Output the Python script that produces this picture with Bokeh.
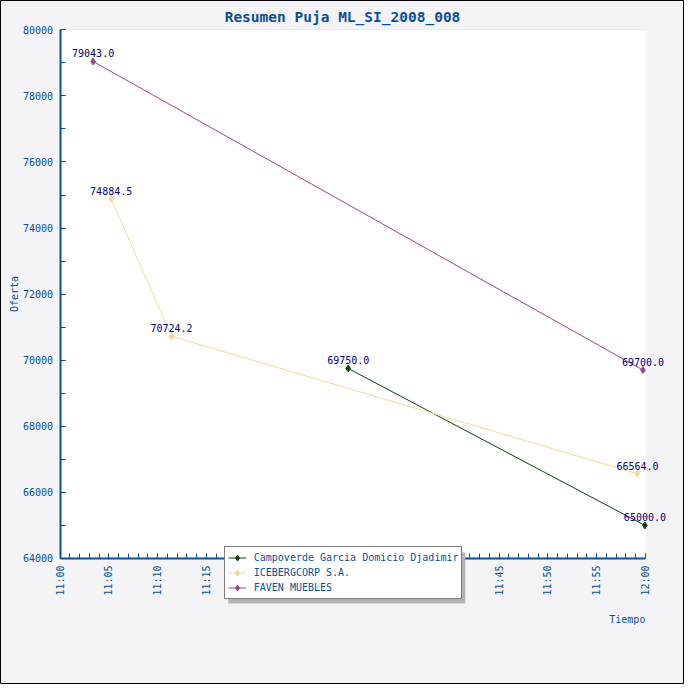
import math
from bokeh.plotting import figure
from bokeh.models import (ColumnDataSource, Legend, LegendItem, Label, FixedTicker,
                          BoxAnnotation, Range1d)
from bokeh.embed import file_html
from bokeh.resources import INLINE
from bokeh.core.properties import value

# ---- data ----
chart_title = "Resumen Puja ML_SI_2008_008"
x_title = "Tiempo"
y_title = "Oferta"
series_names = ["Campoverde Garcia Domicio Djadimir", "ICEBERGCORP S.A.", "FAVEN MUEBLES"]
campoverde_times = ["11:29:32", "11:59:57"]
campoverde_values = [69750.0, 65000.0]
iceberg_times = ["11:05:14", "11:11:25", "11:59:11"]
iceberg_values = [74884.5, 70724.2, 66564.0]
faven_times = ["11:03:23", "11:59:45"]
faven_values = [79043.0, 69700.0]
x_tick_labels = ["11:00", "11:05", "11:10", "11:15", "11:20", "11:25", "11:30",
                 "11:35", "11:40", "11:45", "11:50", "11:55", "12:00"]
y_ticks = [64000, 66000, 68000, 70000, 72000, 74000, 76000, 78000, 80000]

# ---- style ----
series_colors = ["#0f3f12", "#f0d89c", "#9a4488"]
axis_color = "#0b4f97"
label_color = "#000080"
FONT = "DejaVu Sans Mono"
W = H = 684
S = W / 700.0
# plot area in figure pixels
PL, PR, PT, PB = 61 * S, 660 * S, 30 * S, 571 * S


def to_min(t):
    h, m, s = (int(v) for v in t.split(":"))
    return (h - 11) * 60 + m + s / 60.0


def tick_min(t):
    h, m = (int(v) for v in t.split(":"))
    return (h - 11) * 60 + m


xt = [tick_min(t) for t in x_tick_labels]
x0, x1 = xt[0], xt[-1]
y0, y1 = y_ticks[0], y_ticks[-1]
kx = (x1 - x0) / (PR - PL)
ky = (y1 - y0) / (PB - PT)
x_range = Range1d(x0 - PL * kx, x1 + (W - PR) * kx)
y_range = Range1d(y0 - (H - PB) * ky, y1 + PT * ky)

p = figure(width=W, height=H, output_backend="svg", toolbar_location=None,
           min_border=0, x_range=x_range, y_range=y_range)
p.title.visible = False
p.background_fill_color = "#f4f4f6"
p.border_fill_color = "#f4f4f6"
p.outline_line_color = "black"
p.outline_line_width = 1
p.xgrid.visible = False
p.ygrid.visible = False

# white plot area
p.add_layout(BoxAnnotation(left=x0, right=x1, bottom=y0, top=y1, fill_color="white",
                           fill_alpha=1, line_color=None, level="underlay"))
# horizontal grid lines
p.segment(x0=[x0] * len(y_ticks), x1=[x1] * len(y_ticks), y0=y_ticks, y1=y_ticks,
          line_color="#dcdcdc", line_width=1, level="underlay")

# axes
p.xaxis.ticker = FixedTicker(ticks=xt, minor_ticks=list(range(x0, x1 + 1)))
p.xaxis.major_label_overrides = {v: l for v, l in zip(xt, x_tick_labels)}
p.xaxis.major_label_orientation = math.pi / 2
p.xaxis.fixed_location = y0
p.xaxis.bounds = (x0, x1)
p.yaxis.ticker = FixedTicker(ticks=y_ticks, minor_ticks=list(range(y0, y1 + 1, 1000)))
p.yaxis.fixed_location = x0
p.yaxis.bounds = (y0, y1)
p.yaxis.axis_label = y_title
for ax in (p.xaxis[0], p.yaxis[0]):
    ax.axis_line_color = axis_color
    ax.axis_line_width = 2
    ax.major_tick_line_color = axis_color
    ax.minor_tick_line_color = axis_color
    ax.major_tick_in = 5
    ax.major_tick_out = 0
    ax.minor_tick_in = 5
    ax.minor_tick_out = 0
    ax.major_label_text_font = FONT
    ax.major_label_text_font_size = "10px"
    ax.major_label_text_color = axis_color
    ax.major_label_standoff = 7
    ax.axis_label_text_font = FONT
    ax.axis_label_text_font_size = "10px"
    ax.axis_label_text_font_style = "normal"
    ax.axis_label_text_color = axis_color
p.yaxis.axis_label_standoff = 0

# series
all_series = [(campoverde_times, campoverde_values),
              (iceberg_times, iceberg_values),
              (faven_times, faven_values)]
items = []
for (times, vals), name, col in zip(all_series, series_names, series_colors):
    src = ColumnDataSource(dict(x=[to_min(t) for t in times], y=vals,
                                lbl=[f"{v:.1f}" for v in vals]))
    ln = p.line("x", "y", source=src, line_color=col, line_width=1)
    p.scatter("x", "y", source=src, marker="diamond", size=7,
              fill_color=col, line_color=col)
    p.text("x", "y", text="lbl", source=src, text_font=value(FONT),
           text_font_size="10px", text_color=label_color, text_align="center",
           text_baseline="bottom", y_offset=-4)
    # legend-only marker (larger diamond, a single non-drawn NaN point)
    leg_mk = p.scatter(x=[float("nan")], y=[float("nan")], marker="diamond", size=10,
                       fill_color=col, line_color=col)
    items.append(LegendItem(label=name, renderers=[ln, leg_mk]))

# legend shadow + legend
LEG_X, LEG_B, LEG_W, LEG_H = 229 * S, H - 613 * S, 237, 51
p.add_layout(BoxAnnotation(left=LEG_X + 4, right=LEG_X + LEG_W + 4,
                           bottom=LEG_B - 4, top=LEG_B + LEG_H - 4,
                           left_units="screen", right_units="screen",
                           top_units="screen", bottom_units="screen",
                           fill_color="#b4b4b4", fill_alpha=1, line_color=None,
                           level="overlay"))
legend = Legend(items=items, location=(LEG_X, LEG_B), orientation="vertical",
                label_text_font=FONT, label_text_font_size="10px",
                label_text_color=axis_color, label_width=204, label_height=15,
                glyph_width=18, glyph_height=15, label_standoff=8, spacing=0,
                padding=3, margin=0, border_line_color="black", border_line_width=1,
                background_fill_color="white", background_fill_alpha=1)
p.add_layout(legend)

# title and x axis title
p.add_layout(Label(x=350 * S, y=H - 17 * S, x_units="screen", y_units="screen",
                   text=chart_title, text_font=FONT, text_font_size="14.5px",
                   text_font_style="bold", text_color=axis_color, text_align="center",
                   text_baseline="alphabetic"))
p.add_layout(Label(x=PR, y=H - 633 * S, x_units="screen", y_units="screen", text=x_title,
                   text_font=FONT, text_font_size="10px",
                   text_color=axis_color, text_align="right", text_baseline="alphabetic"))

open("out.html", "w").write(file_html(p, INLINE))
